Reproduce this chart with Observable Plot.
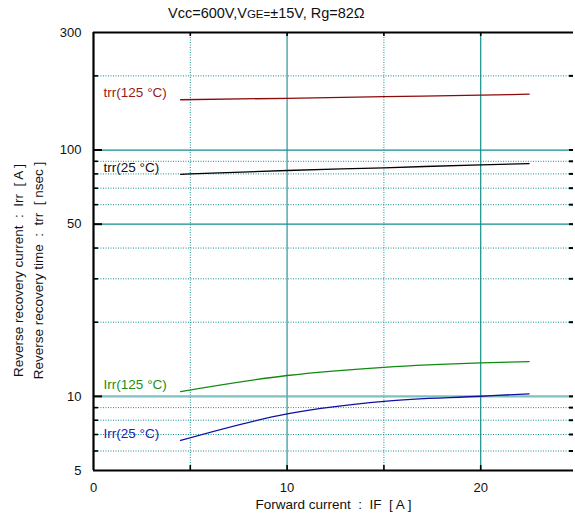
<!DOCTYPE html>
<html><head><meta charset="utf-8">
<script src="https://cdn.jsdelivr.net/npm/d3@7"></script>
<script src="https://cdn.jsdelivr.net/npm/@observablehq/plot@0.6"></script>
<style>
body{margin:0;background:#fff;font-family:"Liberation Sans",Arial,sans-serif}
#title{height:24px;line-height:27px;font-size:14.5px;width:575px;padding-left:168px;box-sizing:border-box;white-space:nowrap;color:#111}
#title span{font-size:11.5px}
</style></head><body>
<div id="title">Vcc=600V,V<span>GE=</span>±15V, Rg=82Ω</div>
<div id="chart"></div>
<script>
// Data
const current = [4.5, 10, 15, 20, 22.5];
const trr125 = [160, 162.2, 164.6, 167, 168.5];
const trr25 = [79.7, 82.6, 84.7, 87.1, 88.1];
const irr125 = [10.46, 12.15, 13.12, 13.68, 13.84];
const irr25 = [6.62, 8.49, 9.55, 10.01, 10.24];
const seriesNames = ["trr(125 °C)", "trr(25 °C)", "Irr(125 °C)", "Irr(25 °C)"];
const seriesValues = [trr125, trr25, irr125, irr25];
const seriesColors = ["#8b0a0a", "#000000", "#108a10", "#1010a0"];
const labelColors = ["#9a1a1a", "#111111", "#189018", "#2020b8"];

const yTickLabels = [5, 10, 50, 100, 300];
const xTickLabels = [0, 10, 20];
const ySolid = [50, 100];
const yDotted = [6, 7, 8, 9, 20, 30, 40, 60, 70, 80, 90, 200];
const xSolid = [20];
const xDotted = [5, 15];

const rows = seriesNames.flatMap((name, i) =>
  current.map((x, j) => ({name, x, y: seriesValues[i][j], color: seriesColors[i]})));
const starts = seriesNames.map((name, i) => ({name, x: current[0], y: seriesValues[i][0], color: labelColors[i]}));

const W = 575, H = 499, mL = 93, mR = 2, mT = 8, mB = 53;
const pw = W - mL - mR, ph = H - mT - mB;
const teal = "#138e8e";

const chart = Plot.plot({
  width: W, height: H,
  marginLeft: mL, marginRight: mR, marginTop: mT, marginBottom: mB,
  style: {fontFamily: "Liberation Sans, Arial, sans-serif", fontSize: "13px", color: "#111"},
  x: {domain: [0, 25], range: [93, 577]},
  y: {type: "log", domain: [5, 300]},
  marks: [
    Plot.ruleY(yDotted, {stroke: teal, strokeDasharray: "1,1.5", strokeWidth: 1}),
    Plot.ruleX(xDotted, {stroke: teal, strokeDasharray: "1,1.5", strokeWidth: 1}),
    Plot.ruleY([10], {stroke: "#7fc0c0", strokeWidth: 2.2}),
    Plot.ruleX([10], {stroke: "#5fb0b0", strokeWidth: 1.6}),
    Plot.ruleY(ySolid, {stroke: teal, strokeWidth: 1.2}),
    Plot.ruleX(xSolid, {stroke: teal, strokeWidth: 1.2}),
    // ticks
    Plot.tickY([10, 50, 100], {stroke: "#000", strokeWidth: 2, insetRight: pw - 9}),
    Plot.tickY(yDotted, {stroke: "#000", strokeWidth: 1.6, insetRight: pw - 5}),
    Plot.tickY([...yDotted, 10, 50, 100], {stroke: "#000", strokeWidth: 2, insetLeft: pw - 4}),
    Plot.tickX(xDotted.concat([10, 20]), {stroke: "#000", strokeWidth: 1.6, insetBottom: ph - 4}),
    Plot.tickX(xDotted.concat([10, 20]), {stroke: "#000", strokeWidth: 1.6, insetTop: ph - 5}),
    // frame
    Plot.ruleX([0], {stroke: "#000", strokeWidth: 2.2}),
    Plot.ruleY([5], {stroke: "#000", strokeWidth: 2.2}),
    Plot.ruleY([300], {stroke: "#000", strokeWidth: 2.2}),
    // curves
    Plot.line(rows, {x: "x", y: "y", z: "name", stroke: "color", strokeWidth: 1.3, curve: "monotone-x"}),
    Plot.text(starts, {x: "x", y: "y", text: "name", fill: "color", textAnchor: "start", dx: -77, dy: -7, fontSize: 13.5}),
    // axes
    Plot.axisY({ticks: yTickLabels, tickSize: 0, tickPadding: 12, tickFormat: d => String(d), label: null, fontSize: 13}),
    Plot.axisX({ticks: xTickLabels, tickSize: 0, tickPadding: 12, tickFormat: d => String(d), label: null, fontSize: 13}),
    Plot.text(["Forward current  :  IF  [ A ]"], {frameAnchor: "bottom", dy: 38, fontSize: 13.5}),
    Plot.text(["Reverse recovery current  :  Irr  [ A ]"], {frameAnchor: "left", textAnchor: "middle", rotate: -90, dx: -75, dy: 19, fontSize: 13.5}),
    Plot.text(["Reverse recovery time  :  trr  [ nsec ]"], {frameAnchor: "left", textAnchor: "middle", rotate: -90, dx: -55, dy: 19, fontSize: 13.5})
  ]
});
document.getElementById("chart").append(chart);
</script>
</body></html>
